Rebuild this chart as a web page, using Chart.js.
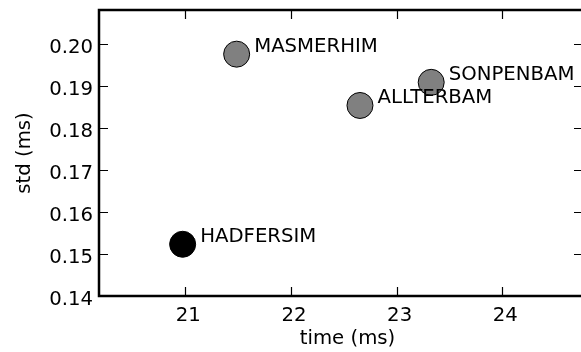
<!DOCTYPE html>
<html>
<head>
<meta charset="utf-8">
<script src="https://cdn.jsdelivr.net/npm/chart.js@4/dist/chart.umd.min.js"></script>
<style>
  html, body { margin: 0; padding: 0; background: #ffffff; overflow: hidden; }
  #wrap { width: 590px; height: 352px; }
</style>
</head>
<body>
<div id="wrap"><canvas id="c" width="590" height="352"></canvas></div>
<script>
// ---- data ----
const names  = ['HADFERSIM', 'MASMERHIM', 'ALLTERBAM', 'SONPENBAM'];
const timeMs = [20.975, 21.486, 22.653, 23.327];
const stdMs  = [0.1523, 0.1975, 0.1853, 0.1908];
const highlighted = 'HADFERSIM';
const xTicks = [21, 22, 23, 24];
const yTicks = [0.14, 0.15, 0.16, 0.17, 0.18, 0.19, 0.20];
const xLabel = 'time (ms)';
const yLabel = 'std (ms)';

const FONT = 'DejaVu Sans';
const FS = 19.7;
const points = names.map((n, i) => ({ x: timeMs[i], y: stdMs[i] }));

function zeroPad(s) {
  s.paddingTop = 0; s.paddingBottom = 0; s.paddingLeft = 0; s.paddingRight = 0;
}

const framePlugin = {
  id: 'frame',
  afterDatasetsDraw(chart) {
    const ctx = chart.ctx;
    const a = chart.chartArea;
    const xs = chart.scales.x, ys = chart.scales.y;
    ctx.save();
    ctx.fillStyle = '#000';
    ctx.font = FS + 'px "' + FONT + '"';
    // point labels
    const meta = chart.getDatasetMeta(0);
    ctx.textAlign = 'left';
    ctx.textBaseline = 'alphabetic';
    meta.data.forEach((el, i) => {
      ctx.fillText(names[i], el.x + 17.5, el.y - 2.5);
    });
    // x axis title
    ctx.textAlign = 'center';
    ctx.textBaseline = 'middle';
    ctx.fillText(xLabel, (a.left + a.right) / 2 + 6.5, 339);
    // inward ticks
    ctx.strokeStyle = '#000';
    ctx.lineWidth = 1.2;
    const tl = 9;
    ctx.beginPath();
    xTicks.forEach(v => {
      const px = Math.round(xs.getPixelForValue(v)) + 0.5;
      ctx.moveTo(px, a.bottom); ctx.lineTo(px, a.bottom - tl);
      ctx.moveTo(px, a.top); ctx.lineTo(px, a.top + tl);
    });
    yTicks.forEach(v => {
      const py = Math.round(ys.getPixelForValue(v)) + 0.5;
      ctx.moveTo(a.left, py); ctx.lineTo(a.left + tl, py);
      ctx.moveTo(a.right, py); ctx.lineTo(a.right - tl, py);
    });
    ctx.stroke();
    // spines (left, top, bottom; the right one lies past the visible edge)
    ctx.lineWidth = 2.5;
    ctx.beginPath();
    ctx.moveTo(a.right + 2, a.top); ctx.lineTo(a.left, a.top);
    ctx.lineTo(a.left, a.bottom); ctx.lineTo(a.right + 2, a.bottom);
    ctx.stroke();
    ctx.restore();
  }
};

const bg = {
  id: 'bg',
  beforeDraw(chart) {
    const ctx = chart.ctx;
    ctx.save();
    ctx.fillStyle = '#fff';
    ctx.fillRect(0, 0, chart.width, chart.height);
    ctx.restore();
  }
};

new Chart(document.getElementById('c'), {
  type: 'scatter',
  data: {
    datasets: [{
      data: points,
      pointRadius: 13,
      pointHoverRadius: 13,
      pointBorderWidth: 1,
      pointBorderColor: '#000',
      pointBackgroundColor: names.map(n => n === highlighted ? '#000000' : '#808080')
    }]
  },
  options: {
    responsive: false,
    animation: false,
    devicePixelRatio: 1,
    layout: { autoPadding: false, padding: { top: 10, right: 7, bottom: 0, left: 0 } },
    plugins: { legend: { display: false }, tooltip: { enabled: false } },
    events: [],
    scales: {
      x: {
        type: 'linear',
        min: 20.1835,
        max: 24.7635,
        afterBuildTicks: s => { s.ticks = xTicks.map(v => ({ value: v })); },
        afterFit: s => { s.height = 56; zeroPad(s); },
        grid: { display: false, drawTicks: false },
        border: { display: false },
        ticks: {
          color: '#000',
          padding: 8,
          labelOffset: 3,
          maxRotation: 0,
          autoSkip: false,
          font: { family: FONT, size: FS },
          callback: v => String(v)
        },
        title: { display: false }
      },
      y: {
        type: 'linear',
        min: 0.14,
        max: 0.208,
        afterBuildTicks: s => { s.ticks = yTicks.map(v => ({ value: v })); },
        afterFit: s => { s.width = 99; zeroPad(s); },
        grid: { display: false, drawTicks: false },
        border: { display: false },
        ticks: {
          color: '#000',
          padding: 6,
          labelOffset: 4,
          autoSkip: false,
          font: { family: FONT, size: FS },
          callback: v => Number(v).toFixed(2)
        },
        title: {
          display: true,
          text: yLabel,
          color: '#000',
          font: { family: FONT, size: FS },
          padding: { top: 13, bottom: 0 }
        }
      }
    }
  },
  plugins: [bg, framePlugin]
});
</script>
</body>
</html>
